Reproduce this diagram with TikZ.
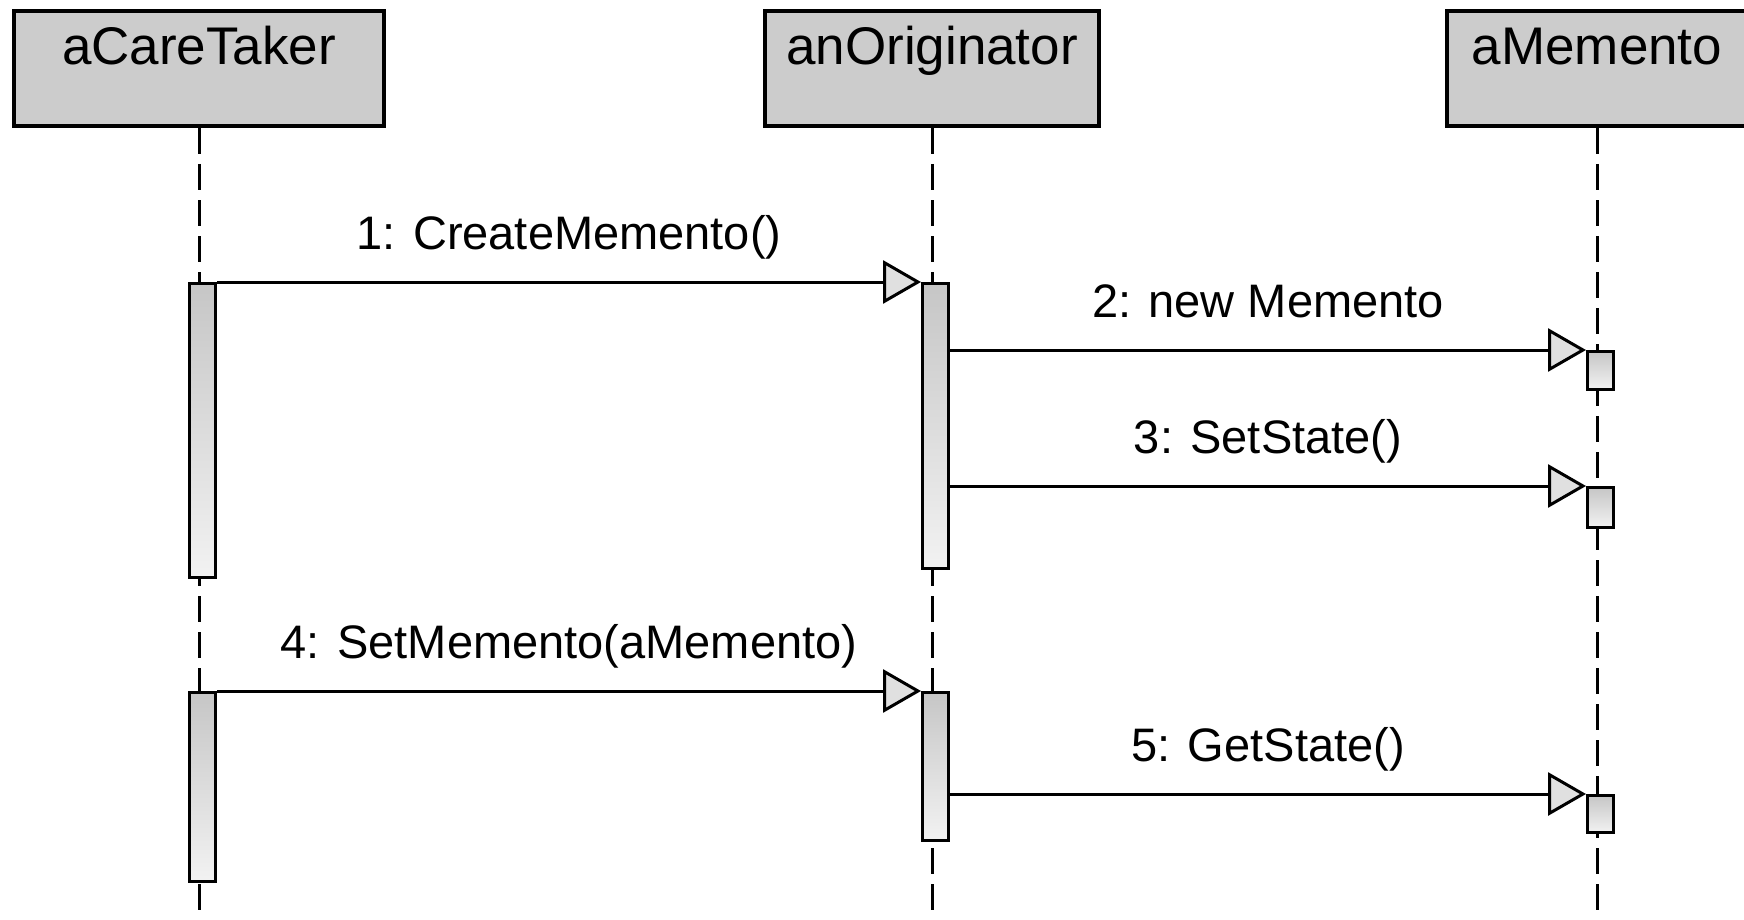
\documentclass[tikz,border=0pt]{standalone}
\usepackage{fontspec}
\setmainfont{Liberation Sans}
\usetikzlibrary{arrows.meta,calc}
\definecolor{boxgray}{RGB}{204,204,204}
\definecolor{tipgray}{RGB}{224,224,224}
\definecolor{bartop}{RGB}{198,198,198}
\definecolor{barbot}{RGB}{242,242,242}
\tikzset{
  actor/.style={draw=black, line width=4pt, fill=boxgray, minimum height=115pt, inner sep=0pt},
  titletxt/.style={anchor=base, font=\fontsize{53}{57}\selectfont, inner sep=0pt},
  lifeline/.style={draw=black, line width=3pt, dash pattern=on 26pt off 10pt},
  actbar/.style={draw=black, line width=3pt, top color=bartop, bottom color=barbot, minimum width=26pt, inner sep=0pt},
  msg/.style={draw=black, line width=3pt, -{Triangle[length=38pt, width=43pt, fill=tipgray]}},
  msglabel/.style={midway, anchor=base, yshift=33pt, inner sep=0pt, font=\fontsize{47}{50}\selectfont},
}
\begin{document}
\begin{tikzpicture}[x=1pt, y=-1pt]
\useasboundingbox (0,0) rectangle (1744,920);
\clip (0,0) rectangle (1744,920);
% actor boxes
\node[actor, minimum width=370pt] (ct) at (199,68.5) {};
\node[actor, minimum width=334pt] (or) at (932,68.5) {};
\node[actor, minimum width=310pt] (mm) at (1602,68.5) {};
\node[titletxt] (ctt) at ($(ct.center)+(0,-3.5)$) {aCareTaker};
\node[titletxt] (ort) at ($(or.center)+(0,-3.5)$) {anOriginator};
\node[titletxt] (mmt) at (1597,65) {aMemento};
% lifeline ends
\coordinate (ctE) at (199,920);
\coordinate (orE) at (932,920);
\coordinate (mmE) at (1597,920);
\draw[lifeline] (ct.south) -- (ctE);
\draw[lifeline] (or.south) -- (orE);
\draw[lifeline] (mm.south -| mmE) -- (mmE);
% activation bars
\node[actbar, minimum height=294pt] (cb1) at (202.5,430.5) {};
\node[actbar, minimum height=189pt] (cb2) at (202.5,787) {};
\node[actbar, minimum height=285pt] (ob1) at (935.5,426) {};
\node[actbar, minimum height=148pt] (ob2) at (935.5,766.5) {};
\node[actbar, minimum height=38pt] (mb1) at (1600.5,370.5) {};
\node[actbar, minimum height=40pt] (mb2) at (1600.5,507.5) {};
\node[actbar, minimum height=37pt] (mb3) at (1600.5,814) {};
% messages
\draw[msg] (cb1.north east) -- node[msglabel] {1: CreateMemento()} (ob1.north west);
\draw[msg] (ob1.east |- mb1.north west) -- node[msglabel] {2: new Memento} (mb1.north west);
\draw[msg] (ob1.east |- mb2.north west) -- node[msglabel] {3: SetState()} (mb2.north west);
\draw[msg] (cb2.north east) -- node[msglabel] {4: SetMemento(aMemento)} (ob2.north west);
\draw[msg] (ob2.east |- mb3.north west) -- node[msglabel] {5: GetState()} (mb3.north west);
\end{tikzpicture}
\end{document}
